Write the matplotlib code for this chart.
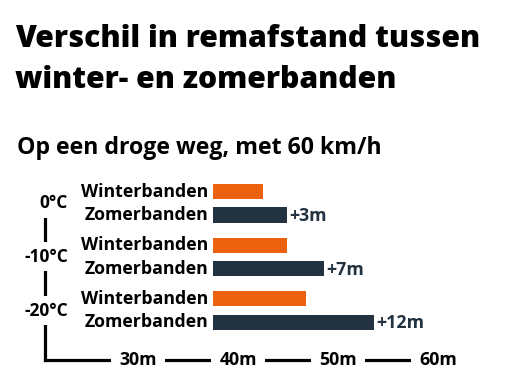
import matplotlib.pyplot as plt

plt.rcParams['font.family'] = ['Open Sans', 'DejaVu Sans']

# data (meters)
temps = ['0°C', '-10°C', '-20°C']
bar_start = 37.5
winter_end = [42.5, 44.9, 46.8]
summer_end = [44.9, 48.6, 53.6]
diff_labels = ['+3m', '+7m', '+12m']
ticks = [30, 40, 50, 60]
tick_labels = ['30m', '40m', '50m', '60m']

orange = '#eb610e'
dark = '#233240'

W, H = 521, 388
fig = plt.figure(figsize=(W / 100, H / 100), dpi=100)

def px(x0, y0, x1, y1):
    return [x0 / W, 1 - y1 / H, (x1 - x0) / W, (y1 - y0) / H]

fig.text(15 / W, 1 - 47 / H, 'Verschil in remafstand tussen', fontsize=21.7,
         fontweight='heavy', ha='left', va='baseline')
fig.text(15 / W, 1 - 88 / H, 'winter- en zomerbanden', fontsize=21.7,
         fontweight='heavy', ha='left', va='baseline')
fig.text(17 / W, 1 - 154 / H, 'Op een droge weg, met 60 km/h', fontsize=16.7,
         fontweight='bold', ha='left', va='baseline')

ax = fig.add_axes(px(45, 180, 410, 360))
step = 2.3
ax.set_xlim(20.7, 57.2)
ax.set_ylim(7.22, -0.5)

for g in range(3):
    yw = g * step
    ys = g * step + 1
    ax.barh(yw, winter_end[g] - bar_start, left=bar_start, height=0.65,
            color=orange, clip_on=False)
    ax.barh(ys, summer_end[g] - bar_start, left=bar_start, height=0.65,
            color=dark, clip_on=False)
    ax.text(bar_start - 0.5, yw, 'Winterbanden', ha='right', va='center',
            fontsize=12.8, fontweight='bold')
    ax.text(bar_start - 0.5, ys, 'Zomerbanden', ha='right', va='center',
            fontsize=12.8, fontweight='bold')
    ax.text(summer_end[g] + 0.2, ys + 0.05, diff_labels[g], ha='left',
            va='center', fontsize=12.8, fontweight='bold', color=dark)
    ax.text(23.0, g * step + 0.5, temps[g], ha='right', va='center',
            fontsize=12.5, fontweight='bold', zorder=5,
            bbox=dict(facecolor='white', edgecolor='none', pad=4))

for t, lab in zip(ticks, tick_labels):
    ax.text(t, 7.22, lab, ha='center', va='center', fontsize=12.8,
            fontweight='bold', zorder=5, clip_on=False,
            bbox=dict(facecolor='white', edgecolor='none', pad=6))

for s in ['top', 'right']:
    ax.spines[s].set_visible(False)
ax.spines['left'].set_linewidth(2.3)
ax.spines['bottom'].set_linewidth(2.3)
ax.spines['left'].set_bounds(7.22, 0.3)
ax.set_xticks([])
ax.set_yticks([])
ax.patch.set_alpha(0)

fig.savefig('out.png', dpi=100)
